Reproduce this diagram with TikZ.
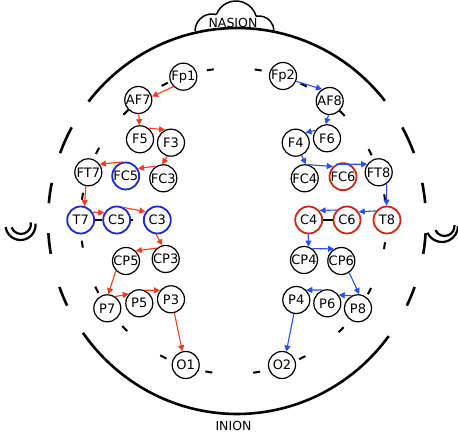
\documentclass[tikz,border=0pt]{standalone}
\usepackage{fontspec}
\setmainfont{DejaVu Sans}
\usetikzlibrary{arrows.meta}
\definecolor{arrowred}{RGB}{250,58,28}
\definecolor{ringred}{RGB}{205,38,18}
\definecolor{arrowblue}{RGB}{38,78,250}
\definecolor{ringblue}{RGB}{28,42,205}
\begin{document}
\begin{tikzpicture}[x=1pt,y=1pt,
  electrode/.style={circle,draw=black,fill=white,line width=1.2pt,
    minimum size=27pt,inner sep=0pt,font=\fontsize{13}{13}\selectfont},
  bluering/.style={electrode,draw=ringblue,line width=1.8pt},
  redring/.style={electrode,draw=ringred,line width=1.8pt},
  tipstyle/.style={-{Triangle[length=6pt,width=6pt]}},
  redpath/.style={tipstyle,draw=arrowred,line width=1.1pt},
  bluepath/.style={tipstyle,draw=arrowblue,line width=1.1pt},
  headline/.style={line width=2.6pt},
  earline/.style={line width=2.2pt},
  landmark/.style={font=\fontsize{12.5}{12.5}\selectfont,inner sep=0pt}
]
\useasboundingbox (0,0) rectangle (458,436);

% head outline: solid front and back, dashed at the sides
\draw[headline] (237,215) ++(38.5:189 and 193)
  arc[start angle=38.5,end angle=141.8,x radius=189,y radius=193];
\draw[headline] (237,215) ++(215.4:189 and 193)
  arc[start angle=215.4,end angle=323.4,x radius=189,y radius=193];
\foreach \a/\b in {151/159.4,168.6/174.7,183.6/189.8,200/206,
                   20.6/29,5.3/11.4,-9.8/-3.6,-26/-20}
  \draw[headline] (237,215) ++(\a:189 and 193)
    arc[start angle=\a,end angle=\b,x radius=189,y radius=193];

% inner dashed circle
\draw[line width=2pt,dash pattern=on 7pt off 41.07pt] (233.5,215) ++(7.4:153)
  arc[start angle=7.4,end angle=367.4,radius=153];

% ears
\draw[earline] (20.5,211) ++(188:15) arc[start angle=188,end angle=365,radius=15];
\draw[earline] (21,212) ++(200:10) arc[start angle=200,end angle=370,radius=10];
\draw[earline] (442,210) ++(205:16) arc[start angle=205,end angle=360,radius=16];
\draw[earline] (444.5,210) ++(205:10) arc[start angle=205,end angle=365,radius=10];

% nose bump
\draw[line width=1.5pt] (212,405) ++(180:17) arc[start angle=180,end angle=75.4,radius=17];
\draw[line width=1.5pt] (236,414) ++(159.2:21) arc[start angle=159.2,end angle=15.8,radius=21];
\draw[line width=1.5pt] (259,405) ++(100.8:15) arc[start angle=100.8,end angle=0,radius=15];

\node[landmark] (nasion) at (233,413.5) {NASION};
\node[landmark] (inion) at (233.5,10.5) {INION};

% electrodes, left hemisphere
\node[electrode] (Fp1) at (183.3,359.3) {Fp1};
\node[electrode] (AF7) at (138.3,336) {AF7};
\node[electrode] (F5)  at (140,296.7) {F5};
\node[electrode] (F3)  at (171,293.3) {F3};
\node[electrode] (FT7) at (88.3,263.7) {FT7};
\node[bluering]  (FC5) at (125.7,260) {FC5};
\node[electrode] (FC3) at (163.3,257.7) {FC3};
\node[bluering]  (T7)  at (80.7,216) {T7};
\node[bluering]  (C5)  at (116.7,216) {C5};
\node[bluering]  (C3)  at (157.3,216) {C3};
\node[electrode] (CP5) at (126,175) {CP5};
\node[electrode] (CP3) at (165.7,177) {CP3};
\node[electrode] (P7)  at (107.3,127.7) {P7};
\node[electrode] (P5)  at (139.3,132.7) {P5};
\node[electrode] (P3)  at (171,136.7) {P3};
\node[electrode] (O1)  at (185.7,71) {O1};

% electrodes, right hemisphere
\node[electrode] (Fp2) at (283,360) {Fp2};
\node[electrode] (AF8) at (329.7,335) {AF8};
\node[electrode] (F6)  at (327,297.7) {F6};
\node[electrode] (F4)  at (295.7,293.3) {F4};
\node[electrode] (FC4) at (304.7,257.7) {FC4};
\node[redring]   (FC6) at (343,259.3) {FC6};
\node[electrode] (FT8) at (378.7,263.7) {FT8};
\node[redring]   (C4)  at (308.7,216) {C4};
\node[redring]   (C6)  at (347,216) {C6};
\node[redring]   (T8)  at (387,216) {T8};
\node[electrode] (CP4) at (304,176) {CP4};
\node[electrode] (CP6) at (341.3,175) {CP6};
\node[electrode] (P4)  at (296.3,136) {P4};
\node[electrode] (P6)  at (327.3,132.7) {P6};
\node[electrode] (P8)  at (358,127.7) {P8};
\node[electrode] (O2)  at (282,71) {O2};

% short links along the central row
\draw[line width=2pt] (T7.east) -- (C5.west);
\draw[line width=2pt] (C5.east) -- ++(2,0);
\draw[line width=2pt] (C4.east) -- (C6.west);

% left chain
\draw[redpath] (Fp1.225) -- (AF7.14);
\draw[redpath] (AF7.272) -- (F5.92);
\draw[redpath] (F5.53) -- (F3.115);
\draw[redpath] (F3.255) -- (FC3.95);
\draw[redpath] (FC3.120) -- (FC5.31);
\draw[redpath] (FC5.102) -- (FT7.35);
\draw[redpath] (FT7.260) -- (T7.75);
\draw[redpath] (T7.33) -- (C5.150);
\draw[redpath] (C5.60) -- (C3.145);
\draw[redpath] (C3.265) -- (CP3.104);
\draw[redpath] (CP3.129) -- (CP5.46);
\draw[redpath] (CP5.224) -- (P7.86);
\draw[redpath] (P7.56) -- (P5.138);
\draw[redpath] (P5.68) -- (P3.141);
\draw[redpath] (P3.284) -- (O1.104);

% right chain
\draw[bluepath] (Fp2.338) -- (AF8.123);
\draw[bluepath] (AF8.265) -- (F6.95);
\draw[bluepath] (F6.146) -- (F4.46);
\draw[bluepath] (F4.295) -- (FC4.85);
\draw[bluepath] (FC4.75) -- (FC6.135);
\draw[bluepath] (FC6.120) -- (FT8.145);
\draw[bluepath] (FT8.304) -- (T8.92);
\draw[bluepath] (T8.141) -- (C6.35);
\draw[bluepath] (C6.136) -- (C4.41);
\draw[bluepath] (C4.268) -- (CP4.71);
\draw[bluepath] (CP4.54) -- (CP6.121);
\draw[bluepath] (CP6.304) -- (P8.85);
\draw[bluepath] (P8.117) -- (P6.36);
\draw[bluepath] (P6.110) -- (P4.45);
\draw[bluepath] (P4.260) -- (O2.72);
\end{tikzpicture}
\end{document}
